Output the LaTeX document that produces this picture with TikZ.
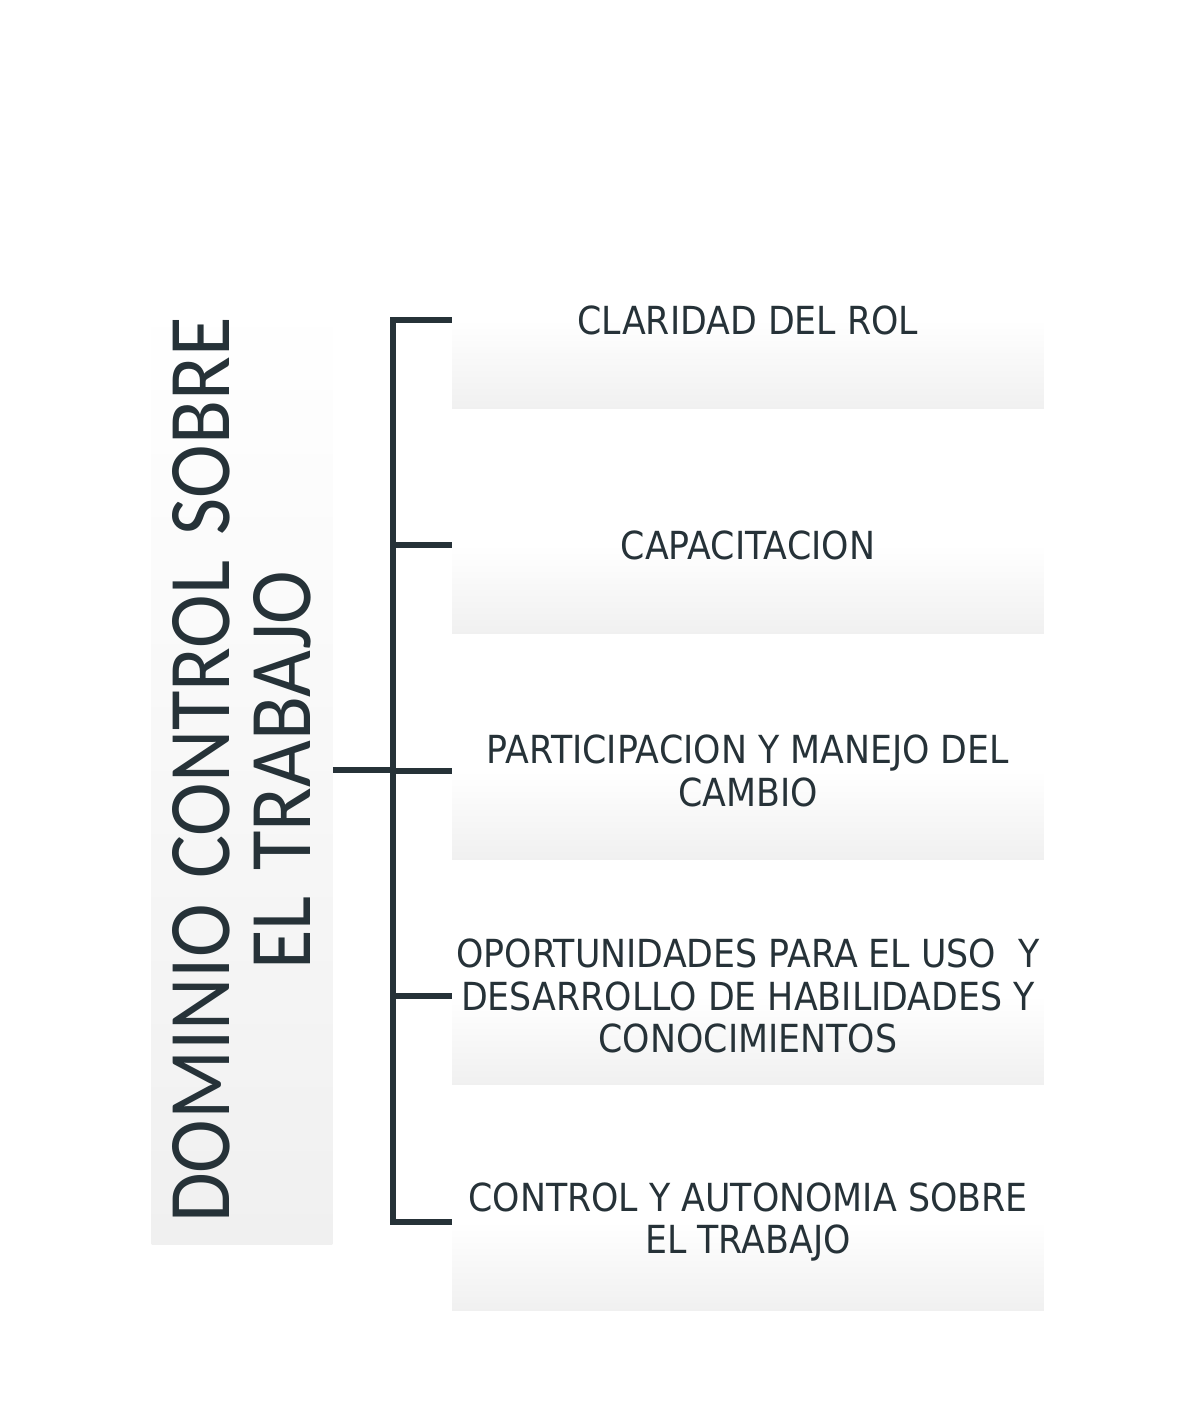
\documentclass[tikz,border=0pt]{standalone}
\usepackage{fontspec}
\usepackage{tikz}
\usetikzlibrary{calc}
\newfontfamily\leaffont[FakeStretch=0.9]{DejaVu Sans}
\newfontfamily\rootfont[FakeStretch=0.92, WordSpace=1.4]{Carlito}
\definecolor{ink}{RGB}{38,50,56}
\definecolor{boxgray}{RGB}{240,240,240}
\tikzstyle{rama} = [rectangle, minimum width=11.84cm, minimum height=3.56cm, inner sep=0pt, top color=white, bottom color=boxgray, middle color=white, text=ink, align=center, font=\leaffont\fontsize{22}{24}\selectfont]
\tikzstyle{raiz} = [rectangle, rotate=90, minimum width=19cm, minimum height=3.62cm, inner sep=0pt, top color=white, bottom color=boxgray, text=ink, align=center, font=\rootfont\fontsize{50}{46}\selectfont]
\tikzstyle{linea} = [draw=ink, line width=3.4pt]

\begin{document}
\begin{tikzpicture}[x=0.02cm, y=-0.02cm]

        \useasboundingbox (0,0) rectangle (1189,1407);

        \node (dominio) [raiz] at (242,770) {DOMINIO CONTROL SOBRE\\EL TRABAJO};

        \node (rol)   [rama] at (748,320) {CLARIDAD DEL ROL};
        \node (capa)  [rama] at (748,545) {CAPACITACION};
        \node (part)  [rama] at (748,771) {PARTICIPACION Y MANEJO DEL\\CAMBIO};
        \node (opor)  [rama] at (748,996) {OPORTUNIDADES PARA EL USO \ Y\\DESARROLLO DE HABILIDADES Y\\CONOCIMIENTOS};
        \node (auto)  [rama] at (748,1222) {CONTROL Y AUTONOMIA SOBRE\\EL TRABAJO};

        \coordinate (eje) at (393,0);

        \draw [linea] (rol.west) -- (rol.west -| eje) -- (auto.west -| eje) -- (auto.west);
        \foreach \n in {capa, part, opor}
            \draw [linea] (\n.west) -- (\n.west -| eje);
        \draw [linea] (dominio.south) -- (dominio.south -| eje);

    \end{tikzpicture}
\end{document}
